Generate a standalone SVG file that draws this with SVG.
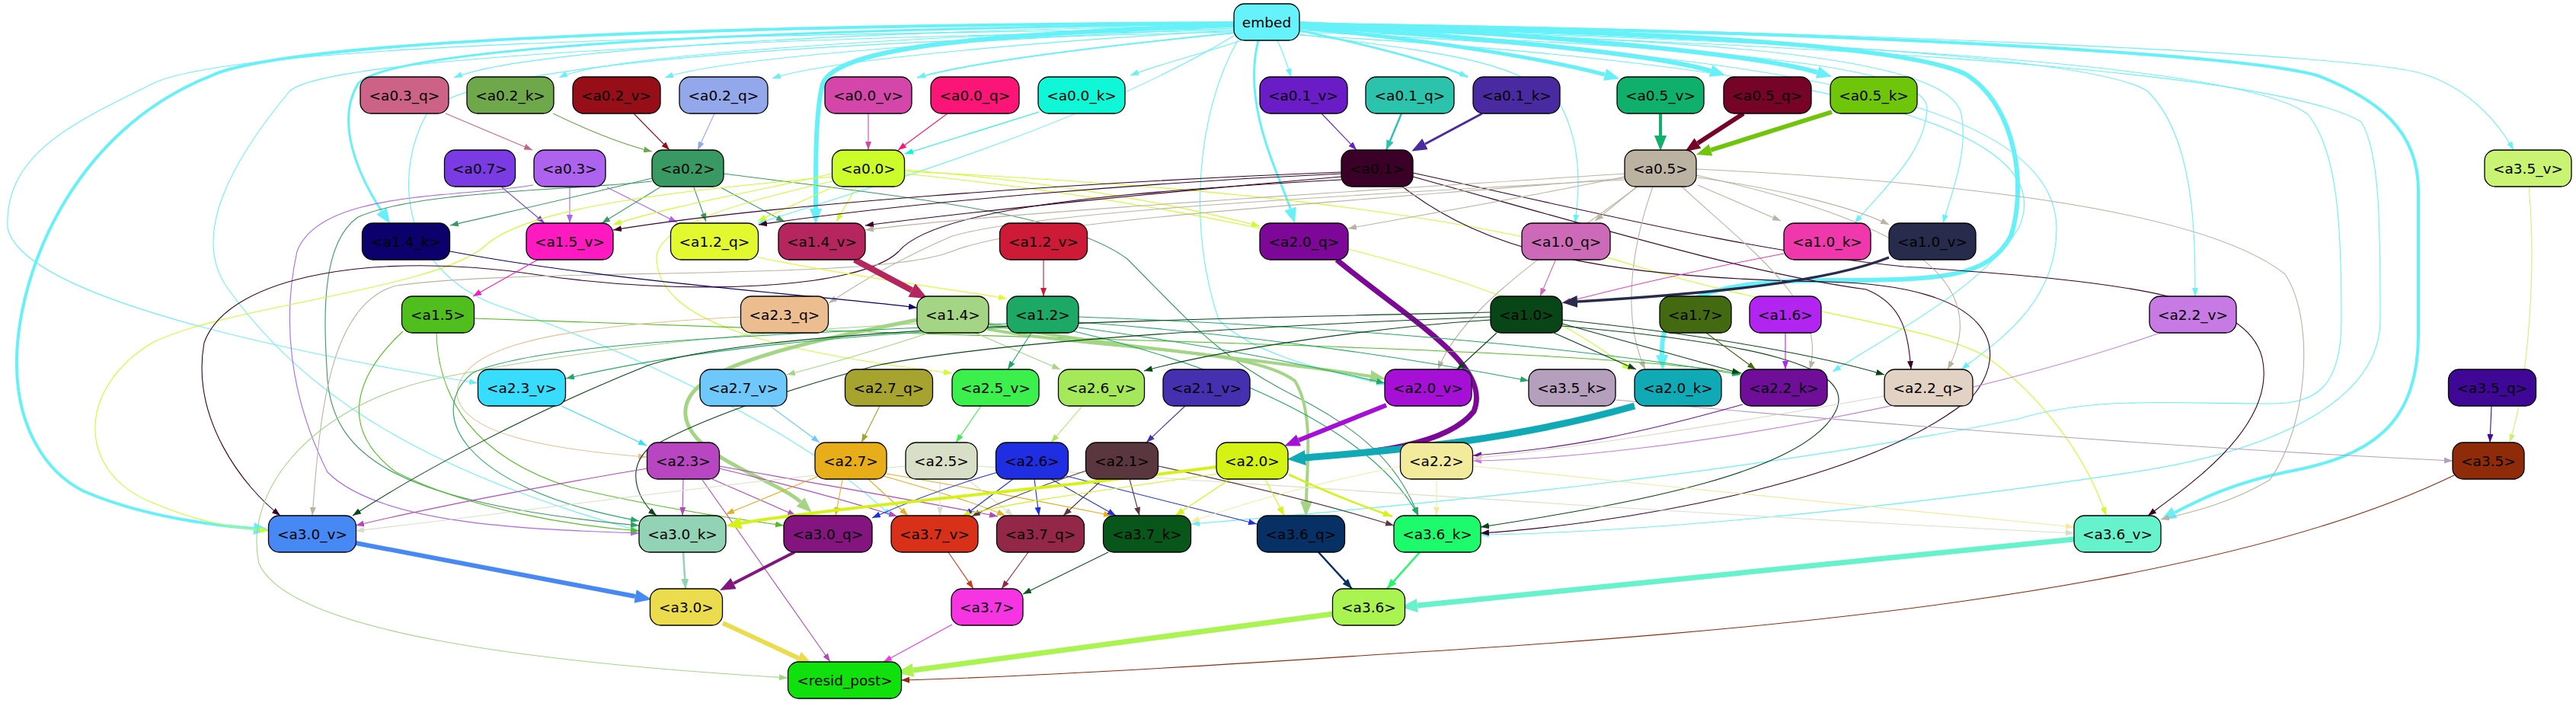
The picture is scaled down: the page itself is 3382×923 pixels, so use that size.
<svg xmlns="http://www.w3.org/2000/svg" width="3382" height="923" viewBox="0 0 3382 923">
<style>
.n rect{stroke:#000;stroke-width:1.3}
.n text{font-family:"DejaVu Sans",sans-serif;font-size:18.5px;text-anchor:middle;dominant-baseline:central;fill:#000}
#edges path{fill:none}
.c-emb{stroke:#66f1f9;marker-end:url(#s-emb)}.C-emb{stroke:#66f1f9;marker-end:url(#b-emb)}
.c-a03q{stroke:#cc6285;marker-end:url(#s-a03q)}
.c-a02k{stroke:#6fa84a;marker-end:url(#s-a02k)}
.c-a02v{stroke:#960f18;marker-end:url(#s-a02v)}
.c-a02q{stroke:#93a8ea;marker-end:url(#s-a02q)}
.c-a00v{stroke:#d546aa;marker-end:url(#s-a00v)}
.c-a00q{stroke:#fa1577;marker-end:url(#s-a00q)}
.c-a00k{stroke:#10f7d7;marker-end:url(#s-a00k)}
.c-a01v{stroke:#6a1cc6;marker-end:url(#s-a01v)}
.c-a01q{stroke:#2cc3ad;marker-end:url(#s-a01q)}
.C-a01k{stroke:#4a2aa0;marker-end:url(#b-a01k)}
.C-a05v{stroke:#0fb06b;marker-end:url(#b-a05v)}
.C-a05q{stroke:#760328;marker-end:url(#b-a05q)}
.C-a05k{stroke:#6ec50a;marker-end:url(#b-a05k)}
.c-a07{stroke:#7a3be2;marker-end:url(#s-a07)}
.c-a03{stroke:#ae63ef;marker-end:url(#s-a03)}
.c-a02{stroke:#389a62;marker-end:url(#s-a02)}
.c-a00{stroke:#cdfc2b;marker-end:url(#s-a00)}
.c-a01{stroke:#3a0028;marker-end:url(#s-a01)}
.c-a05{stroke:#bcb2a1;marker-end:url(#s-a05)}
.c-a35v{stroke:#c8f373;marker-end:url(#s-a35v)}
.c-a14k{stroke:#0b016c;marker-end:url(#s-a14k)}
.c-a15v{stroke:#fd1ac1;marker-end:url(#s-a15v)}
.c-a12q{stroke:#e2f92f;marker-end:url(#s-a12q)}
.C-a14v{stroke:#b6265e;marker-end:url(#b-a14v)}
.c-a12v{stroke:#cc1a37;marker-end:url(#s-a12v)}
.C-a20q{stroke:#7d0897;marker-end:url(#b-a20q)}
.c-a10q{stroke:#cd6ab8;marker-end:url(#s-a10q)}
.c-a10k{stroke:#f038ad;marker-end:url(#s-a10k)}
.C-a10v{stroke:#272c4c;marker-end:url(#b-a10v)}
.c-a15{stroke:#50bf1e;marker-end:url(#s-a15)}
.c-a23q{stroke:#ecbd8e;marker-end:url(#s-a23q)}
.c-a14{stroke:#a3d584;marker-end:url(#s-a14)}.C-a14{stroke:#a3d584;marker-end:url(#b-a14)}
.c-a12{stroke:#1ba965;marker-end:url(#s-a12)}
.c-a10{stroke:#084618;marker-end:url(#s-a10)}
.c-a17{stroke:#436911;marker-end:url(#s-a17)}
.c-a16{stroke:#b224ef;marker-end:url(#s-a16)}
.c-a22v{stroke:#c77ae4;marker-end:url(#s-a22v)}
.c-a23v{stroke:#38dcfc;marker-end:url(#s-a23v)}
.c-a27v{stroke:#6ec8fa;marker-end:url(#s-a27v)}
.c-a27q{stroke:#a6a32e;marker-end:url(#s-a27q)}
.c-a25v{stroke:#3bef4c;marker-end:url(#s-a25v)}
.c-a26v{stroke:#a5e859;marker-end:url(#s-a26v)}
.c-a21v{stroke:#4530b0;marker-end:url(#s-a21v)}
.C-a20v{stroke:#a60fd5;marker-end:url(#b-a20v)}
.c-a35k{stroke:#b49fbd;marker-end:url(#s-a35k)}
.C-a20k{stroke:#10aab7;marker-end:url(#b-a20k)}
.c-a22k{stroke:#6e0e99;marker-end:url(#s-a22k)}
.c-a22q{stroke:#e2d2c3;marker-end:url(#s-a22q)}
.c-a35q{stroke:#3f0796;marker-end:url(#s-a35q)}
.c-a23{stroke:#b746c0;marker-end:url(#s-a23)}
.c-a27{stroke:#e7ae19;marker-end:url(#s-a27)}
.c-a25{stroke:#d8dfc7;marker-end:url(#s-a25)}
.c-a26{stroke:#1f2ee0;marker-end:url(#s-a26)}
.c-a21{stroke:#5a373e;marker-end:url(#s-a21)}
.c-a20{stroke:#d4f214;marker-end:url(#s-a20)}.C-a20{stroke:#d4f214;marker-end:url(#b-a20)}
.c-a22{stroke:#f2eb9c;marker-end:url(#s-a22)}
.c-a35{stroke:#8f2b09;marker-end:url(#s-a35)}
.C-a30v{stroke:#4689f5;marker-end:url(#b-a30v)}
.c-a30k{stroke:#92d2b5;marker-end:url(#s-a30k)}
.C-a30q{stroke:#82157e;marker-end:url(#b-a30q)}
.c-a37v{stroke:#d93019;marker-end:url(#s-a37v)}
.c-a37q{stroke:#932748;marker-end:url(#s-a37q)}
.c-a37k{stroke:#09561b;marker-end:url(#s-a37k)}
.c-a36q{stroke:#073064;marker-end:url(#s-a36q)}
.c-a36k{stroke:#1dfb6c;marker-end:url(#s-a36k)}
.C-a36v{stroke:#66f3cb;marker-end:url(#b-a36v)}
.C-a30{stroke:#ebdc4e;marker-end:url(#b-a30)}
.c-a37{stroke:#f535e1;marker-end:url(#s-a37)}
.C-a36{stroke:#a9f451;marker-end:url(#b-a36)}
</style>
<defs>
<marker id="s-emb" viewBox="0 0 10 10" refX="10" refY="5" markerWidth="11" markerHeight="8" markerUnits="userSpaceOnUse" orient="auto" preserveAspectRatio="none"><path d="M0,0L10,5L0,10z" fill="#66f1f9"/></marker>
<marker id="b-emb" viewBox="0 0 10 10" refX="0" refY="5" markerWidth="20" markerHeight="16" markerUnits="userSpaceOnUse" orient="auto" preserveAspectRatio="none"><path d="M0,0L10,5L0,10z" fill="#66f1f9"/></marker>
<marker id="s-a03q" viewBox="0 0 10 10" refX="10" refY="5" markerWidth="11" markerHeight="8" markerUnits="userSpaceOnUse" orient="auto" preserveAspectRatio="none"><path d="M0,0L10,5L0,10z" fill="#cc6285"/></marker>
<marker id="s-a02k" viewBox="0 0 10 10" refX="10" refY="5" markerWidth="11" markerHeight="8" markerUnits="userSpaceOnUse" orient="auto" preserveAspectRatio="none"><path d="M0,0L10,5L0,10z" fill="#6fa84a"/></marker>
<marker id="s-a02v" viewBox="0 0 10 10" refX="10" refY="5" markerWidth="11" markerHeight="8" markerUnits="userSpaceOnUse" orient="auto" preserveAspectRatio="none"><path d="M0,0L10,5L0,10z" fill="#960f18"/></marker>
<marker id="s-a02q" viewBox="0 0 10 10" refX="10" refY="5" markerWidth="11" markerHeight="8" markerUnits="userSpaceOnUse" orient="auto" preserveAspectRatio="none"><path d="M0,0L10,5L0,10z" fill="#93a8ea"/></marker>
<marker id="s-a00v" viewBox="0 0 10 10" refX="10" refY="5" markerWidth="11" markerHeight="8" markerUnits="userSpaceOnUse" orient="auto" preserveAspectRatio="none"><path d="M0,0L10,5L0,10z" fill="#d546aa"/></marker>
<marker id="s-a00q" viewBox="0 0 10 10" refX="10" refY="5" markerWidth="11" markerHeight="8" markerUnits="userSpaceOnUse" orient="auto" preserveAspectRatio="none"><path d="M0,0L10,5L0,10z" fill="#fa1577"/></marker>
<marker id="s-a00k" viewBox="0 0 10 10" refX="10" refY="5" markerWidth="11" markerHeight="8" markerUnits="userSpaceOnUse" orient="auto" preserveAspectRatio="none"><path d="M0,0L10,5L0,10z" fill="#10f7d7"/></marker>
<marker id="s-a01v" viewBox="0 0 10 10" refX="10" refY="5" markerWidth="11" markerHeight="8" markerUnits="userSpaceOnUse" orient="auto" preserveAspectRatio="none"><path d="M0,0L10,5L0,10z" fill="#6a1cc6"/></marker>
<marker id="s-a01q" viewBox="0 0 10 10" refX="10" refY="5" markerWidth="13" markerHeight="10" markerUnits="userSpaceOnUse" orient="auto" preserveAspectRatio="none"><path d="M0,0L10,5L0,10z" fill="#2cc3ad"/></marker>
<marker id="b-a01k" viewBox="0 0 10 10" refX="0" refY="5" markerWidth="20" markerHeight="16" markerUnits="userSpaceOnUse" orient="auto" preserveAspectRatio="none"><path d="M0,0L10,5L0,10z" fill="#4a2aa0"/></marker>
<marker id="b-a05v" viewBox="0 0 10 10" refX="0" refY="5" markerWidth="20" markerHeight="16" markerUnits="userSpaceOnUse" orient="auto" preserveAspectRatio="none"><path d="M0,0L10,5L0,10z" fill="#0fb06b"/></marker>
<marker id="b-a05q" viewBox="0 0 10 10" refX="0" refY="5" markerWidth="20" markerHeight="16" markerUnits="userSpaceOnUse" orient="auto" preserveAspectRatio="none"><path d="M0,0L10,5L0,10z" fill="#760328"/></marker>
<marker id="b-a05k" viewBox="0 0 10 10" refX="0" refY="5" markerWidth="20" markerHeight="16" markerUnits="userSpaceOnUse" orient="auto" preserveAspectRatio="none"><path d="M0,0L10,5L0,10z" fill="#6ec50a"/></marker>
<marker id="s-a07" viewBox="0 0 10 10" refX="10" refY="5" markerWidth="11" markerHeight="8" markerUnits="userSpaceOnUse" orient="auto" preserveAspectRatio="none"><path d="M0,0L10,5L0,10z" fill="#7a3be2"/></marker>
<marker id="s-a03" viewBox="0 0 10 10" refX="10" refY="5" markerWidth="11" markerHeight="8" markerUnits="userSpaceOnUse" orient="auto" preserveAspectRatio="none"><path d="M0,0L10,5L0,10z" fill="#ae63ef"/></marker>
<marker id="s-a02" viewBox="0 0 10 10" refX="10" refY="5" markerWidth="11" markerHeight="8" markerUnits="userSpaceOnUse" orient="auto" preserveAspectRatio="none"><path d="M0,0L10,5L0,10z" fill="#389a62"/></marker>
<marker id="s-a00" viewBox="0 0 10 10" refX="10" refY="5" markerWidth="11" markerHeight="8" markerUnits="userSpaceOnUse" orient="auto" preserveAspectRatio="none"><path d="M0,0L10,5L0,10z" fill="#cdfc2b"/></marker>
<marker id="s-a01" viewBox="0 0 10 10" refX="10" refY="5" markerWidth="11" markerHeight="8" markerUnits="userSpaceOnUse" orient="auto" preserveAspectRatio="none"><path d="M0,0L10,5L0,10z" fill="#3a0028"/></marker>
<marker id="s-a05" viewBox="0 0 10 10" refX="10" refY="5" markerWidth="11" markerHeight="8" markerUnits="userSpaceOnUse" orient="auto" preserveAspectRatio="none"><path d="M0,0L10,5L0,10z" fill="#bcb2a1"/></marker>
<marker id="s-a35v" viewBox="0 0 10 10" refX="10" refY="5" markerWidth="11" markerHeight="8" markerUnits="userSpaceOnUse" orient="auto" preserveAspectRatio="none"><path d="M0,0L10,5L0,10z" fill="#c8f373"/></marker>
<marker id="s-a14k" viewBox="0 0 10 10" refX="10" refY="5" markerWidth="11" markerHeight="8" markerUnits="userSpaceOnUse" orient="auto" preserveAspectRatio="none"><path d="M0,0L10,5L0,10z" fill="#0b016c"/></marker>
<marker id="s-a15v" viewBox="0 0 10 10" refX="10" refY="5" markerWidth="11" markerHeight="8" markerUnits="userSpaceOnUse" orient="auto" preserveAspectRatio="none"><path d="M0,0L10,5L0,10z" fill="#fd1ac1"/></marker>
<marker id="s-a12q" viewBox="0 0 10 10" refX="10" refY="5" markerWidth="11" markerHeight="8" markerUnits="userSpaceOnUse" orient="auto" preserveAspectRatio="none"><path d="M0,0L10,5L0,10z" fill="#e2f92f"/></marker>
<marker id="b-a14v" viewBox="0 0 10 10" refX="0" refY="5" markerWidth="24" markerHeight="20" markerUnits="userSpaceOnUse" orient="auto" preserveAspectRatio="none"><path d="M0,0L10,5L0,10z" fill="#b6265e"/></marker>
<marker id="s-a12v" viewBox="0 0 10 10" refX="10" refY="5" markerWidth="11" markerHeight="8" markerUnits="userSpaceOnUse" orient="auto" preserveAspectRatio="none"><path d="M0,0L10,5L0,10z" fill="#cc1a37"/></marker>
<marker id="b-a20q" viewBox="0 0 10 10" refX="0" refY="5" markerWidth="20" markerHeight="16" markerUnits="userSpaceOnUse" orient="auto" preserveAspectRatio="none"><path d="M0,0L10,5L0,10z" fill="#7d0897"/></marker>
<marker id="s-a10q" viewBox="0 0 10 10" refX="10" refY="5" markerWidth="11" markerHeight="8" markerUnits="userSpaceOnUse" orient="auto" preserveAspectRatio="none"><path d="M0,0L10,5L0,10z" fill="#cd6ab8"/></marker>
<marker id="s-a10k" viewBox="0 0 10 10" refX="10" refY="5" markerWidth="11" markerHeight="8" markerUnits="userSpaceOnUse" orient="auto" preserveAspectRatio="none"><path d="M0,0L10,5L0,10z" fill="#f038ad"/></marker>
<marker id="b-a10v" viewBox="0 0 10 10" refX="0" refY="5" markerWidth="20" markerHeight="16" markerUnits="userSpaceOnUse" orient="auto" preserveAspectRatio="none"><path d="M0,0L10,5L0,10z" fill="#272c4c"/></marker>
<marker id="s-a15" viewBox="0 0 10 10" refX="10" refY="5" markerWidth="11" markerHeight="8" markerUnits="userSpaceOnUse" orient="auto" preserveAspectRatio="none"><path d="M0,0L10,5L0,10z" fill="#50bf1e"/></marker>
<marker id="s-a23q" viewBox="0 0 10 10" refX="10" refY="5" markerWidth="11" markerHeight="8" markerUnits="userSpaceOnUse" orient="auto" preserveAspectRatio="none"><path d="M0,0L10,5L0,10z" fill="#ecbd8e"/></marker>
<marker id="s-a14" viewBox="0 0 10 10" refX="10" refY="5" markerWidth="11" markerHeight="8" markerUnits="userSpaceOnUse" orient="auto" preserveAspectRatio="none"><path d="M0,0L10,5L0,10z" fill="#a3d584"/></marker>
<marker id="b-a14" viewBox="0 0 10 10" refX="0" refY="5" markerWidth="20" markerHeight="16" markerUnits="userSpaceOnUse" orient="auto" preserveAspectRatio="none"><path d="M0,0L10,5L0,10z" fill="#a3d584"/></marker>
<marker id="s-a12" viewBox="0 0 10 10" refX="10" refY="5" markerWidth="11" markerHeight="8" markerUnits="userSpaceOnUse" orient="auto" preserveAspectRatio="none"><path d="M0,0L10,5L0,10z" fill="#1ba965"/></marker>
<marker id="s-a10" viewBox="0 0 10 10" refX="10" refY="5" markerWidth="11" markerHeight="8" markerUnits="userSpaceOnUse" orient="auto" preserveAspectRatio="none"><path d="M0,0L10,5L0,10z" fill="#084618"/></marker>
<marker id="s-a17" viewBox="0 0 10 10" refX="10" refY="5" markerWidth="11" markerHeight="8" markerUnits="userSpaceOnUse" orient="auto" preserveAspectRatio="none"><path d="M0,0L10,5L0,10z" fill="#436911"/></marker>
<marker id="s-a16" viewBox="0 0 10 10" refX="10" refY="5" markerWidth="11" markerHeight="8" markerUnits="userSpaceOnUse" orient="auto" preserveAspectRatio="none"><path d="M0,0L10,5L0,10z" fill="#b224ef"/></marker>
<marker id="s-a22v" viewBox="0 0 10 10" refX="10" refY="5" markerWidth="11" markerHeight="8" markerUnits="userSpaceOnUse" orient="auto" preserveAspectRatio="none"><path d="M0,0L10,5L0,10z" fill="#c77ae4"/></marker>
<marker id="s-a23v" viewBox="0 0 10 10" refX="10" refY="5" markerWidth="11" markerHeight="8" markerUnits="userSpaceOnUse" orient="auto" preserveAspectRatio="none"><path d="M0,0L10,5L0,10z" fill="#38dcfc"/></marker>
<marker id="s-a27v" viewBox="0 0 10 10" refX="10" refY="5" markerWidth="11" markerHeight="8" markerUnits="userSpaceOnUse" orient="auto" preserveAspectRatio="none"><path d="M0,0L10,5L0,10z" fill="#6ec8fa"/></marker>
<marker id="s-a27q" viewBox="0 0 10 10" refX="10" refY="5" markerWidth="11" markerHeight="8" markerUnits="userSpaceOnUse" orient="auto" preserveAspectRatio="none"><path d="M0,0L10,5L0,10z" fill="#a6a32e"/></marker>
<marker id="s-a25v" viewBox="0 0 10 10" refX="10" refY="5" markerWidth="11" markerHeight="8" markerUnits="userSpaceOnUse" orient="auto" preserveAspectRatio="none"><path d="M0,0L10,5L0,10z" fill="#3bef4c"/></marker>
<marker id="s-a26v" viewBox="0 0 10 10" refX="10" refY="5" markerWidth="11" markerHeight="8" markerUnits="userSpaceOnUse" orient="auto" preserveAspectRatio="none"><path d="M0,0L10,5L0,10z" fill="#a5e859"/></marker>
<marker id="s-a21v" viewBox="0 0 10 10" refX="10" refY="5" markerWidth="11" markerHeight="8" markerUnits="userSpaceOnUse" orient="auto" preserveAspectRatio="none"><path d="M0,0L10,5L0,10z" fill="#4530b0"/></marker>
<marker id="b-a20v" viewBox="0 0 10 10" refX="0" refY="5" markerWidth="20" markerHeight="16" markerUnits="userSpaceOnUse" orient="auto" preserveAspectRatio="none"><path d="M0,0L10,5L0,10z" fill="#a60fd5"/></marker>
<marker id="s-a35k" viewBox="0 0 10 10" refX="10" refY="5" markerWidth="11" markerHeight="8" markerUnits="userSpaceOnUse" orient="auto" preserveAspectRatio="none"><path d="M0,0L10,5L0,10z" fill="#b49fbd"/></marker>
<marker id="b-a20k" viewBox="0 0 10 10" refX="0" refY="5" markerWidth="24" markerHeight="20" markerUnits="userSpaceOnUse" orient="auto" preserveAspectRatio="none"><path d="M0,0L10,5L0,10z" fill="#10aab7"/></marker>
<marker id="s-a22k" viewBox="0 0 10 10" refX="10" refY="5" markerWidth="11" markerHeight="8" markerUnits="userSpaceOnUse" orient="auto" preserveAspectRatio="none"><path d="M0,0L10,5L0,10z" fill="#6e0e99"/></marker>
<marker id="s-a22q" viewBox="0 0 10 10" refX="10" refY="5" markerWidth="11" markerHeight="8" markerUnits="userSpaceOnUse" orient="auto" preserveAspectRatio="none"><path d="M0,0L10,5L0,10z" fill="#e2d2c3"/></marker>
<marker id="s-a35q" viewBox="0 0 10 10" refX="10" refY="5" markerWidth="11" markerHeight="8" markerUnits="userSpaceOnUse" orient="auto" preserveAspectRatio="none"><path d="M0,0L10,5L0,10z" fill="#3f0796"/></marker>
<marker id="s-a23" viewBox="0 0 10 10" refX="10" refY="5" markerWidth="11" markerHeight="8" markerUnits="userSpaceOnUse" orient="auto" preserveAspectRatio="none"><path d="M0,0L10,5L0,10z" fill="#b746c0"/></marker>
<marker id="s-a27" viewBox="0 0 10 10" refX="10" refY="5" markerWidth="11" markerHeight="8" markerUnits="userSpaceOnUse" orient="auto" preserveAspectRatio="none"><path d="M0,0L10,5L0,10z" fill="#e7ae19"/></marker>
<marker id="s-a25" viewBox="0 0 10 10" refX="10" refY="5" markerWidth="11" markerHeight="8" markerUnits="userSpaceOnUse" orient="auto" preserveAspectRatio="none"><path d="M0,0L10,5L0,10z" fill="#d8dfc7"/></marker>
<marker id="s-a26" viewBox="0 0 10 10" refX="10" refY="5" markerWidth="11" markerHeight="8" markerUnits="userSpaceOnUse" orient="auto" preserveAspectRatio="none"><path d="M0,0L10,5L0,10z" fill="#1f2ee0"/></marker>
<marker id="s-a21" viewBox="0 0 10 10" refX="10" refY="5" markerWidth="11" markerHeight="8" markerUnits="userSpaceOnUse" orient="auto" preserveAspectRatio="none"><path d="M0,0L10,5L0,10z" fill="#5a373e"/></marker>
<marker id="s-a20" viewBox="0 0 10 10" refX="10" refY="5" markerWidth="12" markerHeight="9" markerUnits="userSpaceOnUse" orient="auto" preserveAspectRatio="none"><path d="M0,0L10,5L0,10z" fill="#d4f214"/></marker>
<marker id="b-a20" viewBox="0 0 10 10" refX="0" refY="5" markerWidth="20" markerHeight="16" markerUnits="userSpaceOnUse" orient="auto" preserveAspectRatio="none"><path d="M0,0L10,5L0,10z" fill="#d4f214"/></marker>
<marker id="s-a22" viewBox="0 0 10 10" refX="10" refY="5" markerWidth="11" markerHeight="8" markerUnits="userSpaceOnUse" orient="auto" preserveAspectRatio="none"><path d="M0,0L10,5L0,10z" fill="#f2eb9c"/></marker>
<marker id="s-a35" viewBox="0 0 10 10" refX="10" refY="5" markerWidth="11" markerHeight="8" markerUnits="userSpaceOnUse" orient="auto" preserveAspectRatio="none"><path d="M0,0L10,5L0,10z" fill="#8f2b09"/></marker>
<marker id="b-a30v" viewBox="0 0 10 10" refX="0" refY="5" markerWidth="22" markerHeight="18" markerUnits="userSpaceOnUse" orient="auto" preserveAspectRatio="none"><path d="M0,0L10,5L0,10z" fill="#4689f5"/></marker>
<marker id="s-a30k" viewBox="0 0 10 10" refX="10" refY="5" markerWidth="13" markerHeight="10" markerUnits="userSpaceOnUse" orient="auto" preserveAspectRatio="none"><path d="M0,0L10,5L0,10z" fill="#92d2b5"/></marker>
<marker id="b-a30q" viewBox="0 0 10 10" refX="0" refY="5" markerWidth="20" markerHeight="16" markerUnits="userSpaceOnUse" orient="auto" preserveAspectRatio="none"><path d="M0,0L10,5L0,10z" fill="#82157e"/></marker>
<marker id="s-a37v" viewBox="0 0 10 10" refX="10" refY="5" markerWidth="11" markerHeight="8" markerUnits="userSpaceOnUse" orient="auto" preserveAspectRatio="none"><path d="M0,0L10,5L0,10z" fill="#d93019"/></marker>
<marker id="s-a37q" viewBox="0 0 10 10" refX="10" refY="5" markerWidth="11" markerHeight="8" markerUnits="userSpaceOnUse" orient="auto" preserveAspectRatio="none"><path d="M0,0L10,5L0,10z" fill="#932748"/></marker>
<marker id="s-a37k" viewBox="0 0 10 10" refX="10" refY="5" markerWidth="11" markerHeight="8" markerUnits="userSpaceOnUse" orient="auto" preserveAspectRatio="none"><path d="M0,0L10,5L0,10z" fill="#09561b"/></marker>
<marker id="s-a36q" viewBox="0 0 10 10" refX="10" refY="5" markerWidth="13" markerHeight="10" markerUnits="userSpaceOnUse" orient="auto" preserveAspectRatio="none"><path d="M0,0L10,5L0,10z" fill="#073064"/></marker>
<marker id="s-a36k" viewBox="0 0 10 10" refX="10" refY="5" markerWidth="13" markerHeight="10" markerUnits="userSpaceOnUse" orient="auto" preserveAspectRatio="none"><path d="M0,0L10,5L0,10z" fill="#1dfb6c"/></marker>
<marker id="b-a36v" viewBox="0 0 10 10" refX="0" refY="5" markerWidth="22" markerHeight="18" markerUnits="userSpaceOnUse" orient="auto" preserveAspectRatio="none"><path d="M0,0L10,5L0,10z" fill="#66f3cb"/></marker>
<marker id="b-a30" viewBox="0 0 10 10" refX="0" refY="5" markerWidth="22" markerHeight="18" markerUnits="userSpaceOnUse" orient="auto" preserveAspectRatio="none"><path d="M0,0L10,5L0,10z" fill="#ebdc4e"/></marker>
<marker id="s-a37" viewBox="0 0 10 10" refX="10" refY="5" markerWidth="11" markerHeight="8" markerUnits="userSpaceOnUse" orient="auto" preserveAspectRatio="none"><path d="M0,0L10,5L0,10z" fill="#f535e1"/></marker>
<marker id="b-a36" viewBox="0 0 10 10" refX="0" refY="5" markerWidth="22" markerHeight="18" markerUnits="userSpaceOnUse" orient="auto" preserveAspectRatio="none"><path d="M0,0L10,5L0,10z" fill="#a9f451"/></marker>
</defs>
<rect width="3382" height="923" fill="#fff"/>
<g id="edges" stroke-width="1.1">
<path class="c-emb" d="M1620,33 C1200,40 700,60 596,102"/>
<path class="c-emb" d="M1620,35 C1250,45 800,70 734,102"/>
<path class="c-emb" d="M1620,37 C1300,50 950,75 873,102"/>
<path class="c-emb" d="M1621,40 C1350,55 1080,80 1014,103"/>
<path class="c-emb" stroke-width="2" d="M1622,43 C1450,60 1280,80 1204,102"/>
<path class="c-emb" d="M1630,53 C1580,70 1520,85 1484,99"/>
<path class="c-emb" d="M1677,53 C1685,70 1690,85 1695,101"/>
<path class="c-emb" stroke-width="2.5" d="M1706,40 C1800,60 1880,80 1927,101"/>
<path class="C-emb" stroke-width="5" d="M1706,36 C1900,55 2040,80 2107,98"/>
<path class="C-emb" stroke-width="6" d="M1706,33 C1950,50 2170,70 2246,93"/>
<path class="C-emb" stroke-width="6" d="M1706,31 C2000,42 2300,70 2386,95"/>
<path class="C-emb" stroke-width="3" d="M1620,31 C1100,38 520,55 470,110 C440,160 470,230 501,277"/>
<path class="C-emb" stroke-width="6" d="M1620,33 C1300,45 1100,60 1080,110 C1070,150 1071,220 1071,274"/>
<path class="C-emb" stroke-width="3" d="M1652,53 C1630,140 1680,230 1694,274"/>
<path class="c-emb" d="M1706,45 C1900,70 2000,80 2050,140 C2080,200 2072,260 2068,293"/>
<path class="c-emb" d="M1706,40 C2200,60 2520,80 2530,140 C2530,200 2470,250 2435,293"/>
<path class="c-emb" d="M1706,38 C2300,50 2560,80 2575,150 C2585,200 2560,260 2551,293"/>
<path class="c-emb" d="M1706,30 C2400,40 3100,70 3181,97 C3240,115 3280,160 3300,197"/>
<path class="c-emb" d="M1706,36 C2400,50 2760,80 2820,120 C2880,180 2882,300 2882,389"/>
<path class="C-emb" stroke-width="4" d="M1620,30 C1000,33 380,50 276,100 C100,170 25,350 22,470 C20,560 60,620 110,645 C180,675 260,688 333,694"/>
<path class="C-emb" stroke-width="6" d="M1706,34 C2200,40 2500,60 2580,97 C2650,140 2660,250 2640,310 C2610,365 2550,368 2400,368 C2250,368 2178,390 2182,466"/>
<path class="C-emb" stroke-width="4" d="M1706,32 C2400,40 2950,70 3045,100 C3120,130 3175,170 3175,250 L3175,440 C3175,560 3110,600 3000,620 C2930,635 2890,655 2855,673"/>
<path class="c-emb" d="M1620,38 C900,45 300,60 200,110 C100,160 5,200 10,300 C30,380 300,450 627,503"/>
<path class="c-emb" d="M1620,40 C900,50 420,80 380,120 C330,180 240,300 300,380 C400,520 560,620 839,697"/>
<path class="c-emb" d="M1620,42 C1000,55 600,90 560,150 C520,220 520,350 650,400 C800,450 1050,560 1170,678"/>
<path class="c-emb" d="M1706,37 C2500,55 2950,90 3030,150 C3070,200 3074,300 3074,420 C3074,510 3040,530 2980,530 C2850,530 2750,520 2650,550 C2300,620 1900,660 1564,688"/>
<path class="c-emb" d="M1706,38 C2500,60 3000,100 3100,160 C3125,200 3125,300 3125,420 C3125,520 3000,590 2800,620 C2400,680 2100,700 1944,702"/>
<path class="c-emb" d="M1706,42 C2400,70 2700,150 2700,300 C2700,400 2620,450 2575,485"/>
<path class="c-emb" d="M1706,46 C2300,80 2720,150 2650,300 C2600,380 2480,440 2406,488"/>
<path class="c-emb" d="M1625,53 C1570,150 1560,300 1600,420 C1650,470 1760,490 1818,505"/>
<path class="c-emb" d="M1620,47 C1450,150 1200,230 995,293"/>
<path class="c-a03q" d="M585,149 L699,197"/>
<path class="c-a02k" d="M726,149 C780,175 820,190 856,199"/>
<path class="c-a02v" d="M832,149 L879,197"/>
<path class="c-a02q" d="M938,149 L916,197"/>
<path class="c-a00v" d="M1140,149 L1140,197"/>
<path class="c-a00q" d="M1244,149 L1179,197"/>
<path class="c-a00k" d="M1364,147 L1188,202"/>
<path class="c-a01v" d="M1735,149 L1781,197"/>
<path class="c-a01q" stroke-width="2.5" d="M1840,149 L1820,197"/>
<path class="C-a01k" stroke-width="3" d="M1946,149 L1871,189"/>
<path class="C-a05v" stroke-width="4" d="M2180,149 L2180,178"/>
<path class="C-a05q" stroke-width="6" d="M2289,149 L2229,188"/>
<path class="C-a05k" stroke-width="6" d="M2405,147 L2246,197"/>
<path class="c-a07" d="M659,246 L715,293"/>
<path class="c-a03" d="M748,246 L748,293"/>
<path class="c-a03" d="M797,246 L889,292"/>
<path class="c-a03" d="M700,243 C600,260 420,250 390,330 C370,420 380,520 430,620 C500,690 700,695 839,700"/>
<path class="c-a02" d="M856,234 C750,260 660,280 591,296"/>
<path class="c-a02" d="M868,245 L790,293"/>
<path class="c-a02" d="M911,246 L927,291"/>
<path class="c-a02" d="M946,246 L1030,291"/>
<path class="c-a02" d="M856,238 C750,250 550,250 470,285 C420,320 425,420 430,500 C440,600 520,660 839,690"/>
<path class="c-a02" d="M950,228 C1200,260 1400,280 1480,340 C1560,420 1600,470 1700,520 C1800,570 1840,620 1862,677"/>
<path class="c-a00" d="M1093,228 C1000,250 880,270 805,295"/>
<path class="c-a00" d="M1095,245 L995,290"/>
<path class="c-a00" d="M1124,246 L1098,291"/>
<path class="c-a00" d="M1188,223 C1400,240 1550,270 1654,297"/>
<path class="c-a00" d="M1188,228 C1500,260 1800,320 2000,400 C2080,440 2120,470 2140,486"/>
<path class="c-a00" d="M1188,225 C1500,240 1900,270 2150,350 C2350,410 2550,430 2610,470 C2680,520 2740,600 2765,677"/>
<path class="c-a00" d="M1093,232 C900,250 700,270 640,320 C580,380 300,400 200,450 C100,510 100,620 200,660 C260,685 300,692 352,697"/>
<path class="c-a00" d="M1093,238 C950,270 860,300 862,340 C865,420 1000,460 1250,490"/>
<path class="c-a01" d="M1761,226 C1400,240 1000,270 805,302"/>
<path class="c-a01" d="M1761,228 C1500,240 1200,265 996,295"/>
<path class="c-a01" d="M1761,232 C1550,250 1300,275 1136,296"/>
<path class="c-a01" d="M1761,236 C1500,250 1230,270 1180,330 C1130,380 900,390 700,360 C500,330 300,360 268,450 C250,550 320,640 368,677"/>
<path class="c-a01" d="M1855,227 C2100,280 2300,330 2500,350 C2800,370 2950,390 2970,470 C2990,560 2870,640 2820,677"/>
<path class="c-a01" d="M1840,244 C1950,330 2100,365 2400,370 C2620,375 2640,460 2590,520 C2450,640 2100,690 1944,700"/>
<path class="c-a01" d="M1855,232 C2100,300 2300,360 2450,380 C2500,400 2505,440 2509,485"/>
<path class="c-a05" d="M2133,228 C1800,250 1300,280 1136,302"/>
<path class="c-a05" d="M2133,232 C2000,260 1850,285 1770,300"/>
<path class="c-a05" d="M2148,246 L2094,290"/>
<path class="c-a05" d="M2229,243 L2338,290"/>
<path class="c-a05" d="M2229,233 C2350,250 2440,275 2480,295"/>
<path class="c-a05" d="M2133,236 C1700,260 1350,280 1250,310 C1180,340 1130,370 1088,398"/>
<path class="c-a05" d="M2150,245 C2050,320 1920,400 1888,485"/>
<path class="c-a05" d="M2170,245 C2140,330 2130,420 2160,485"/>
<path class="c-a05" d="M2208,245 C2300,330 2400,400 2376,485"/>
<path class="c-a05" d="M2227,230 C2450,280 2630,350 2557,485"/>
<path class="c-a05" d="M2133,234 C1700,270 1350,290 1250,330 C1150,370 700,350 520,375 C430,400 420,550 410,677"/>
<path class="c-a05" d="M2227,222 C2600,240 2900,280 3000,360 C3040,420 3030,560 2980,630 C2930,660 2880,672 2837,682"/>
<path class="c-a14k" d="M591,330 C800,370 1100,390 1204,404"/>
<path class="c-a15v" d="M706,341 L621,389"/>
<path class="c-a12q" d="M996,338 C1100,360 1250,380 1322,392"/>
<path class="C-a14v" stroke-width="8" d="M1122,341 L1197,381"/>
<path class="c-a12v" d="M1370,341 L1370,389"/>
<path class="C-a20q" stroke-width="7" d="M1755,341 C1850,420 1960,480 1935,540 C1900,585 1800,595 1712,601"/>
<path class="c-a10q" d="M2042,342 L2022,389"/>
<path class="c-a10k" d="M2342,333 C2200,360 2100,385 2051,398"/>
<path class="C-a10v" stroke-width="3.5" d="M2480,338 C2400,370 2250,385 2071,396"/>
<path class="c-a15" d="M529,435 C470,490 440,560 520,620 C620,670 750,690 839,697"/>
<path class="c-a15" d="M573,437 C575,520 620,600 750,640 C880,670 960,680 1029,690"/>
<path class="c-a15" d="M622,418 C900,430 1300,440 1600,450 C1900,460 2150,470 2287,490"/>
<path class="c-a23q" d="M973,416 C700,430 600,460 600,520 C610,570 720,590 849,600"/>
<path class="C-a14" stroke-width="5" d="M1204,420 C1000,460 895,490 900,545 C905,600 1020,630 1051,659"/>
<path class="C-a14" stroke-width="4" d="M1296,432 C1450,460 1640,455 1700,500 C1725,540 1716,610 1715,658"/>
<path class="C-a14" stroke-width="4" d="M1296,425 C1450,455 1650,470 1799,494"/>
<path class="c-a14" d="M1220,437 C1150,460 1080,480 1033,492"/>
<path class="c-a14" d="M1280,437 L1392,485"/>
<path class="c-a14" d="M1204,425 C900,440 700,470 560,500 C400,540 320,650 340,740 C380,830 700,870 1034,890"/>
<path class="c-a12" d="M1354,437 L1323,485"/>
<path class="c-a12" d="M1322,430 C1100,440 900,460 743,497"/>
<path class="c-a12" d="M1416,423 C1650,440 1850,470 2007,500"/>
<path class="c-a12" d="M1416,416 C1800,430 2100,460 2285,492"/>
<path class="c-a12" d="M1416,430 C1600,455 1720,480 1818,503"/>
<path class="c-a12" d="M1322,425 C1000,440 700,450 620,490 C560,540 600,640 839,684"/>
<path class="c-a12" d="M1410,435 C1600,480 1800,560 1862,677"/>
<path class="c-a10" d="M1965,437 L1913,485"/>
<path class="c-a10" d="M2040,437 L2148,485"/>
<path class="c-a10" d="M2051,425 L2285,490"/>
<path class="c-a10" d="M2051,420 C2250,440 2400,470 2474,492"/>
<path class="c-a10" d="M1957,420 C1800,430 1600,460 1502,487"/>
<path class="c-a10" d="M1957,410 C1500,420 1000,430 850,480 C700,540 550,620 463,677"/>
<path class="c-a10" d="M2051,428 C2300,450 2440,480 2410,540 C2370,620 2150,660 1944,692"/>
<path class="c-a10" d="M1957,416 C1600,430 1300,450 1150,480 C1000,520 900,560 850,590 C820,620 840,660 862,677"/>
<path class="c-a17" d="M2240,437 L2305,485"/>
<path class="c-a16" d="M2344,437 L2344,485"/>
<path class="c-a22v" d="M2836,437 C2600,520 2200,600 1934,605"/>
<path class="c-a23v" d="M737,533 L849,585"/>
<path class="c-a27v" d="M1011,533 L1076,581"/>
<path class="c-a27q" d="M1155,533 L1131,581"/>
<path class="c-a25v" d="M1288,533 L1255,581"/>
<path class="c-a26v" d="M1421,533 L1380,581"/>
<path class="c-a21v" d="M1556,533 L1505,581"/>
<path class="C-a20v" stroke-width="6" d="M1820,532 L1705,578"/>
<path class="C-a20k" stroke-width="9" d="M2146,533 C1980,580 1820,592 1714,601"/>
<path class="c-a35k" d="M2121,525 C2500,560 2900,590 3220,605"/>
<path class="c-a22k" d="M2288,531 C2150,570 2050,590 1934,598"/>
<path class="c-a22q" d="M2474,520 C2250,560 2050,590 1934,602"/>
<path class="c-a35q" d="M3271,533 L3269,581"/>
<path class="c-a35v" d="M3320,245 C3330,350 3320,500 3295,581"/>
<path class="c-a23" d="M897,629 L896,677"/>
<path class="c-a23" d="M850,615 C700,640 550,670 467,690"/>
<path class="c-a23" d="M935,629 L1045,677"/>
<path class="c-a23" d="M944,615 C1050,640 1120,660 1178,678"/>
<path class="c-a23" d="M944,612 C1100,640 1220,660 1310,678"/>
<path class="c-a23" d="M922,630 L1090,869"/>
<path class="c-a27" d="M1075,625 L953,675"/>
<path class="c-a27" d="M1106,630 L1097,677"/>
<path class="c-a27" d="M1140,629 L1192,677"/>
<path class="c-a27" d="M1160,625 C1230,645 1280,660 1320,677"/>
<path class="c-a27" d="M1164,622 C1300,645 1400,665 1460,677"/>
<path class="c-a25" d="M1189,612 C900,640 700,670 467,697"/>
<path class="c-a25" d="M1234,629 L1234,677"/>
<path class="c-a25" d="M1270,629 L1330,677"/>
<path class="c-a25" d="M1283,612 C1800,645 2300,680 2723,700"/>
<path class="c-a26" d="M1310,620 C1240,640 1190,660 1145,680"/>
<path class="c-a26" d="M1330,629 L1266,677"/>
<path class="c-a26" d="M1358,629 L1364,677"/>
<path class="c-a26" d="M1380,629 L1465,677"/>
<path class="c-a26" d="M1400,625 C1500,650 1580,670 1650,688"/>
<path class="c-a21" d="M1426,618 C1360,640 1310,660 1276,678"/>
<path class="c-a21" d="M1448,629 L1396,677"/>
<path class="c-a21" d="M1483,629 L1496,677"/>
<path class="c-a21" d="M1521,612 C1650,640 1750,665 1830,690"/>
<path class="C-a20" stroke-width="4" d="M1597,613 C1400,640 1100,665 973,687"/>
<path class="c-a20" d="M1600,622 C1400,650 1300,665 1262,678"/>
<path class="c-a20" d="M1615,629 L1543,677"/>
<path class="c-a20" d="M1661,629 L1686,677"/>
<path class="c-a20" stroke-width="2.5" d="M1692,623 C1750,650 1790,665 1828,678"/>
<path class="c-a22" d="M1886,629 L1886,677"/>
<path class="c-a22" d="M1839,612 C1700,640 1620,665 1564,685"/>
<path class="c-a22" d="M1934,612 C2200,640 2500,670 2723,692"/>
<path class="c-a35" d="M3222,624 C2900,780 2300,830 1800,860 C1500,880 1300,890 1183,893"/>
<path class="C-a30v" stroke-width="6" d="M467,713 L834,783"/>
<path class="c-a30k" stroke-width="2.5" d="M897,725 L900,773"/>
<path class="C-a30q" stroke-width="4" d="M1043,725 L963,766"/>
<path class="c-a37v" d="M1245,725 L1278,773"/>
<path class="c-a37q" d="M1350,725 L1315,773"/>
<path class="c-a37k" d="M1455,725 L1343,780"/>
<path class="c-a36q" stroke-width="2.5" d="M1731,725 L1775,773"/>
<path class="c-a36k" stroke-width="2.5" d="M1864,725 L1821,773"/>
<path class="C-a36v" stroke-width="7" d="M2723,708 L1861,795"/>
<path class="C-a30" stroke-width="6" d="M949,818 L1048,864"/>
<path class="c-a37" d="M1250,820 L1160,869"/>
<path class="C-a36" stroke-width="7" d="M1750,806 L1199,880"/>
</g>
<g id="n-embed" class="n"><rect x="1620" y="5" width="86" height="48" rx="14" fill="#66f2fa"/><text x="1663" y="29">embed</text></g>
<g id="n-a0_3_q" class="n"><rect x="473" y="101" width="116" height="48" rx="14" fill="#cc6285"/><text x="531" y="125">&lt;a0.3_q&gt;</text></g>
<g id="n-a0_2_k" class="n"><rect x="613" y="101" width="114" height="48" rx="14" fill="#6fa84a"/><text x="670" y="125">&lt;a0.2_k&gt;</text></g>
<g id="n-a0_2_v" class="n"><rect x="752" y="101" width="115" height="48" rx="14" fill="#960f18"/><text x="809" y="125">&lt;a0.2_v&gt;</text></g>
<g id="n-a0_2_q" class="n"><rect x="892" y="101" width="116" height="48" rx="14" fill="#93a8ea"/><text x="950" y="125">&lt;a0.2_q&gt;</text></g>
<g id="n-a0_0_v" class="n"><rect x="1083" y="101" width="114" height="48" rx="14" fill="#d546aa"/><text x="1140" y="125">&lt;a0.0_v&gt;</text></g>
<g id="n-a0_0_q" class="n"><rect x="1222" y="101" width="116" height="48" rx="14" fill="#fa1577"/><text x="1280" y="125">&lt;a0.0_q&gt;</text></g>
<g id="n-a0_0_k" class="n"><rect x="1363" y="101" width="114" height="48" rx="14" fill="#10f7d7"/><text x="1420" y="125">&lt;a0.0_k&gt;</text></g>
<g id="n-a0_1_v" class="n"><rect x="1654" y="101" width="115" height="48" rx="14" fill="#6a1cc6"/><text x="1711" y="125">&lt;a0.1_v&gt;</text></g>
<g id="n-a0_1_q" class="n"><rect x="1793" y="101" width="116" height="48" rx="14" fill="#2cc3ad"/><text x="1851" y="125">&lt;a0.1_q&gt;</text></g>
<g id="n-a0_1_k" class="n"><rect x="1934" y="101" width="114" height="48" rx="14" fill="#4a2aa0"/><text x="1991" y="125">&lt;a0.1_k&gt;</text></g>
<g id="n-a0_5_v" class="n"><rect x="2123" y="101" width="114" height="48" rx="14" fill="#0fb06b"/><text x="2180" y="125">&lt;a0.5_v&gt;</text></g>
<g id="n-a0_5_q" class="n"><rect x="2263" y="101" width="115" height="48" rx="14" fill="#760328"/><text x="2320" y="125">&lt;a0.5_q&gt;</text></g>
<g id="n-a0_5_k" class="n"><rect x="2403" y="101" width="114" height="48" rx="14" fill="#6ec50a"/><text x="2460" y="125">&lt;a0.5_k&gt;</text></g>
<g id="n-a0_7" class="n"><rect x="583.5" y="197" width="93" height="48" rx="14" fill="#7a3be2"/><text x="630" y="221">&lt;a0.7&gt;</text></g>
<g id="n-a0_3" class="n"><rect x="701" y="197" width="94" height="48" rx="14" fill="#ae63ef"/><text x="748" y="221">&lt;a0.3&gt;</text></g>
<g id="n-a0_2" class="n"><rect x="856" y="197" width="94" height="48" rx="14" fill="#389a62"/><text x="903" y="221">&lt;a0.2&gt;</text></g>
<g id="n-a0_0" class="n"><rect x="1092.5" y="197" width="95" height="48" rx="14" fill="#cdfc2b"/><text x="1140" y="221">&lt;a0.0&gt;</text></g>
<g id="n-a0_1" class="n"><rect x="1761" y="197" width="94" height="48" rx="14" fill="#3a0028"/><text x="1808" y="221">&lt;a0.1&gt;</text></g>
<g id="n-a0_5" class="n"><rect x="2133" y="197" width="94" height="48" rx="14" fill="#bcb2a1"/><text x="2180" y="221">&lt;a0.5&gt;</text></g>
<g id="n-a3_5_v" class="n"><rect x="3262" y="197" width="114" height="48" rx="14" fill="#c8f373"/><text x="3319" y="221">&lt;a3.5_v&gt;</text></g>
<g id="n-a1_4_k" class="n"><rect x="475.5" y="293" width="115" height="48" rx="14" fill="#0b016c"/><text x="533" y="317">&lt;a1.4_k&gt;</text></g>
<g id="n-a1_5_v" class="n"><rect x="691" y="293" width="114" height="48" rx="14" fill="#fd1ac1"/><text x="748" y="317">&lt;a1.5_v&gt;</text></g>
<g id="n-a1_2_q" class="n"><rect x="880.5" y="293" width="115" height="48" rx="14" fill="#e2f92f"/><text x="938" y="317">&lt;a1.2_q&gt;</text></g>
<g id="n-a1_4_v" class="n"><rect x="1022" y="293" width="114" height="48" rx="14" fill="#b6265e"/><text x="1079" y="317">&lt;a1.4_v&gt;</text></g>
<g id="n-a1_2_v" class="n"><rect x="1312.5" y="293" width="115" height="48" rx="14" fill="#cc1a37"/><text x="1370" y="317">&lt;a1.2_v&gt;</text></g>
<g id="n-a2_0_q" class="n"><rect x="1654" y="293" width="116" height="48" rx="14" fill="#7d0897"/><text x="1712" y="317">&lt;a2.0_q&gt;</text></g>
<g id="n-a1_0_q" class="n"><rect x="1998" y="293" width="116" height="48" rx="14" fill="#cd6ab8"/><text x="2056" y="317">&lt;a1.0_q&gt;</text></g>
<g id="n-a1_0_k" class="n"><rect x="2342" y="293" width="114" height="48" rx="14" fill="#f038ad"/><text x="2399" y="317">&lt;a1.0_k&gt;</text></g>
<g id="n-a1_0_v" class="n"><rect x="2480" y="293" width="114" height="48" rx="14" fill="#272c4c"/><text x="2537" y="317">&lt;a1.0_v&gt;</text></g>
<g id="n-a1_5" class="n"><rect x="527.5" y="389" width="95" height="48" rx="14" fill="#50bf1e"/><text x="575" y="413">&lt;a1.5&gt;</text></g>
<g id="n-a2_3_q" class="n"><rect x="972.5" y="389" width="115" height="48" rx="14" fill="#ecbd8e"/><text x="1030" y="413">&lt;a2.3_q&gt;</text></g>
<g id="n-a1_4" class="n"><rect x="1204" y="389" width="94" height="48" rx="14" fill="#a3d584"/><text x="1251" y="413">&lt;a1.4&gt;</text></g>
<g id="n-a1_2" class="n"><rect x="1322" y="389" width="94" height="48" rx="14" fill="#1ba965"/><text x="1369" y="413">&lt;a1.2&gt;</text></g>
<g id="n-a1_0" class="n"><rect x="1957" y="389" width="94" height="48" rx="14" fill="#084618"/><text x="2004" y="413">&lt;a1.0&gt;</text></g>
<g id="n-a1_7" class="n"><rect x="2179" y="389" width="94" height="48" rx="14" fill="#436911"/><text x="2226" y="413">&lt;a1.7&gt;</text></g>
<g id="n-a1_6" class="n"><rect x="2297" y="389" width="94" height="48" rx="14" fill="#b224ef"/><text x="2344" y="413">&lt;a1.6&gt;</text></g>
<g id="n-a2_2_v" class="n"><rect x="2822" y="389" width="114" height="48" rx="14" fill="#c77ae4"/><text x="2879" y="413">&lt;a2.2_v&gt;</text></g>
<g id="n-a2_3_v" class="n"><rect x="627.5" y="485" width="115" height="48" rx="14" fill="#38dcfc"/><text x="685" y="509">&lt;a2.3_v&gt;</text></g>
<g id="n-a2_7_v" class="n"><rect x="919" y="485" width="114" height="48" rx="14" fill="#6ec8fa"/><text x="976" y="509">&lt;a2.7_v&gt;</text></g>
<g id="n-a2_7_q" class="n"><rect x="1109.5" y="485" width="115" height="48" rx="14" fill="#a6a32e"/><text x="1167" y="509">&lt;a2.7_q&gt;</text></g>
<g id="n-a2_5_v" class="n"><rect x="1250" y="485" width="114" height="48" rx="14" fill="#3bef4c"/><text x="1307" y="509">&lt;a2.5_v&gt;</text></g>
<g id="n-a2_6_v" class="n"><rect x="1389.5" y="485" width="113" height="48" rx="14" fill="#a5e859"/><text x="1446" y="509">&lt;a2.6_v&gt;</text></g>
<g id="n-a2_1_v" class="n"><rect x="1527" y="485" width="114" height="48" rx="14" fill="#4530b0"/><text x="1584" y="509">&lt;a2.1_v&gt;</text></g>
<g id="n-a2_0_v" class="n"><rect x="1818" y="485" width="114" height="48" rx="14" fill="#a60fd5"/><text x="1875" y="509">&lt;a2.0_v&gt;</text></g>
<g id="n-a3_5_k" class="n"><rect x="2007" y="485" width="114" height="48" rx="14" fill="#b49fbd"/><text x="2064" y="509">&lt;a3.5_k&gt;</text></g>
<g id="n-a2_0_k" class="n"><rect x="2146" y="485" width="114" height="48" rx="14" fill="#10aab7"/><text x="2203" y="509">&lt;a2.0_k&gt;</text></g>
<g id="n-a2_2_k" class="n"><rect x="2285" y="485" width="114" height="48" rx="14" fill="#6e0e99"/><text x="2342" y="509">&lt;a2.2_k&gt;</text></g>
<g id="n-a2_2_q" class="n"><rect x="2474" y="485" width="116" height="48" rx="14" fill="#e2d2c3"/><text x="2532" y="509">&lt;a2.2_q&gt;</text></g>
<g id="n-a3_5_q" class="n"><rect x="3214.5" y="485" width="115" height="48" rx="14" fill="#3f0796"/><text x="3272" y="509">&lt;a3.5_q&gt;</text></g>
<g id="n-a2_3" class="n"><rect x="849.5" y="581" width="95" height="48" rx="14" fill="#b746c0"/><text x="897" y="605">&lt;a2.3&gt;</text></g>
<g id="n-a2_7" class="n"><rect x="1070" y="581" width="94" height="48" rx="14" fill="#e7ae19"/><text x="1117" y="605">&lt;a2.7&gt;</text></g>
<g id="n-a2_5" class="n"><rect x="1189" y="581" width="94" height="48" rx="14" fill="#d8dfc7"/><text x="1236" y="605">&lt;a2.5&gt;</text></g>
<g id="n-a2_6" class="n"><rect x="1307.5" y="581" width="95" height="48" rx="14" fill="#1f2ee0"/><text x="1355" y="605">&lt;a2.6&gt;</text></g>
<g id="n-a2_1" class="n"><rect x="1425.5" y="581" width="95" height="48" rx="14" fill="#5a373e"/><text x="1473" y="605">&lt;a2.1&gt;</text></g>
<g id="n-a2_0" class="n"><rect x="1597" y="581" width="94" height="48" rx="14" fill="#d4f214"/><text x="1644" y="605">&lt;a2.0&gt;</text></g>
<g id="n-a2_2" class="n"><rect x="1838.5" y="581" width="95" height="48" rx="14" fill="#f2eb9c"/><text x="1886" y="605">&lt;a2.2&gt;</text></g>
<g id="n-a3_5" class="n"><rect x="3220" y="581" width="94" height="48" rx="14" fill="#8f2b09"/><text x="3267" y="605">&lt;a3.5&gt;</text></g>
<g id="n-a3_0_v" class="n"><rect x="352.5" y="677" width="115" height="48" rx="14" fill="#4689f5"/><text x="410" y="701">&lt;a3.0_v&gt;</text></g>
<g id="n-a3_0_k" class="n"><rect x="839" y="677" width="114" height="48" rx="14" fill="#92d2b5"/><text x="896" y="701">&lt;a3.0_k&gt;</text></g>
<g id="n-a3_0_q" class="n"><rect x="1029" y="677" width="116" height="48" rx="14" fill="#82157e"/><text x="1087" y="701">&lt;a3.0_q&gt;</text></g>
<g id="n-a3_7_v" class="n"><rect x="1170" y="677" width="114" height="48" rx="14" fill="#d93019"/><text x="1227" y="701">&lt;a3.7_v&gt;</text></g>
<g id="n-a3_7_q" class="n"><rect x="1308.5" y="677" width="115" height="48" rx="14" fill="#932748"/><text x="1366" y="701">&lt;a3.7_q&gt;</text></g>
<g id="n-a3_7_k" class="n"><rect x="1448.5" y="677" width="115" height="48" rx="14" fill="#09561b"/><text x="1506" y="701">&lt;a3.7_k&gt;</text></g>
<g id="n-a3_6_q" class="n"><rect x="1650.5" y="677" width="115" height="48" rx="14" fill="#073064"/><text x="1708" y="701">&lt;a3.6_q&gt;</text></g>
<g id="n-a3_6_k" class="n"><rect x="1830" y="677" width="114" height="48" rx="14" fill="#1dfb6c"/><text x="1887" y="701">&lt;a3.6_k&gt;</text></g>
<g id="n-a3_6_v" class="n"><rect x="2723" y="677" width="114" height="48" rx="14" fill="#66f3cb"/><text x="2780" y="701">&lt;a3.6_v&gt;</text></g>
<g id="n-a3_0" class="n"><rect x="853.5" y="773" width="95" height="48" rx="14" fill="#ebdc4e"/><text x="901" y="797">&lt;a3.0&gt;</text></g>
<g id="n-a3_7" class="n"><rect x="1249" y="773" width="94" height="48" rx="14" fill="#f535e1"/><text x="1296" y="797">&lt;a3.7&gt;</text></g>
<g id="n-a3_6" class="n"><rect x="1749.5" y="773" width="95" height="48" rx="14" fill="#a9f451"/><text x="1797" y="797">&lt;a3.6&gt;</text></g>
<g id="n-resid_post" class="n"><rect x="1034.5" y="869" width="149" height="48" rx="14" fill="#10e10d"/><text x="1109" y="893">&lt;resid_post&gt;</text></g>
</svg>
